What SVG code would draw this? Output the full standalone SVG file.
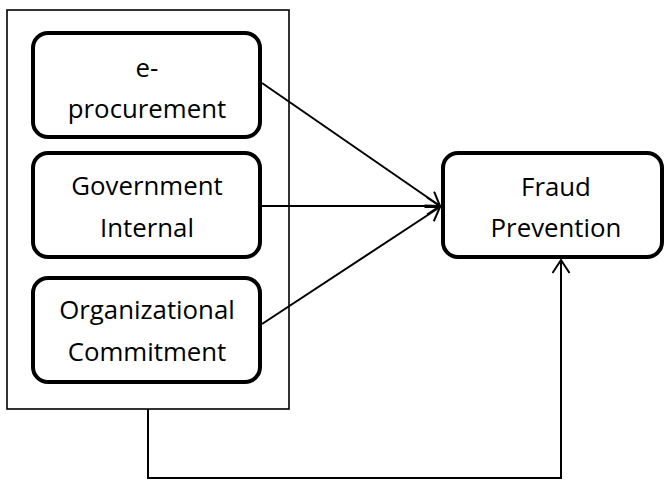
<svg xmlns="http://www.w3.org/2000/svg" width="668" height="482" viewBox="0 0 668 482">
<style>
.frame{fill:none;stroke:#000;stroke-width:1.6}
.box{fill:#fff;stroke:#000;stroke-width:4}
.lbl{font-family:"Open Sans","Liberation Sans",sans-serif;font-size:25.8px;fill:#000;text-anchor:middle}
.con{fill:none;stroke:#000;stroke-width:2}
</style>
<defs>
<marker id="arr" markerUnits="userSpaceOnUse" markerWidth="20" markerHeight="20" refX="14" refY="9" orient="auto" viewBox="0 0 20 20">
<path d="M1,0.5 L14,9 L1,17.5" fill="none" stroke="#000" stroke-width="2"/>
</marker>
</defs>
<g id="group-frame"><rect class="frame" x="7" y="10" width="282" height="399"/></g>
<g id="n-eproc"><rect class="box" x="33" y="33" width="227" height="104" rx="15"/>
<text class="lbl" x="147" y="77">e-</text><text class="lbl" x="147" y="118">procurement</text></g>
<g id="n-gov"><rect class="box" x="33" y="153" width="227" height="104" rx="15"/>
<text class="lbl" x="147" y="195">Government</text><text class="lbl" x="147" y="237">Internal</text></g>
<g id="n-org"><rect class="box" x="33" y="278" width="227" height="104" rx="15"/>
<text class="lbl" x="147" y="319">Organizational</text><text class="lbl" x="147" y="361">Commitment</text></g>
<g id="n-fraud"><rect class="box" x="443" y="153" width="219" height="104" rx="15"/>
<text class="lbl" x="556" y="196">Fraud</text><text class="lbl" x="556" y="237">Prevention</text></g>
<g id="connectors">
<line class="con" x1="262" y1="83" x2="440" y2="206" marker-end="url(#arr)"/>
<line class="con" x1="262" y1="206" x2="440" y2="206" marker-end="url(#arr)"/>
<line class="con" x1="262" y1="324" x2="440" y2="207" marker-end="url(#arr)"/>
<polyline class="con" points="148,409 148,478 561,478 561,260" marker-end="url(#arr)"/>
</g>
</svg>
